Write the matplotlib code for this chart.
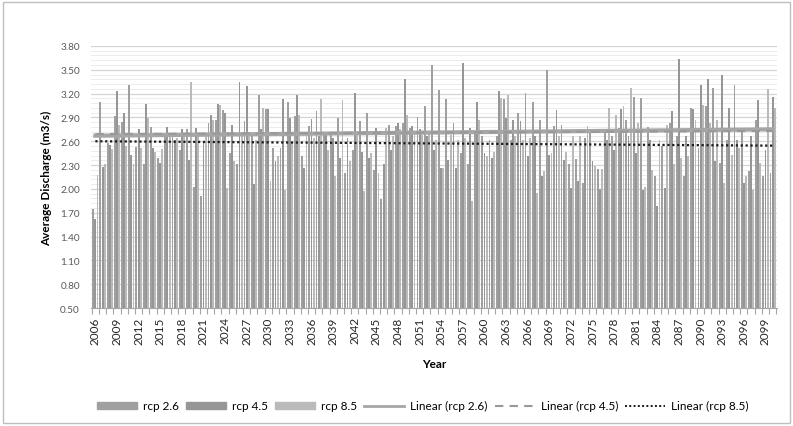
import numpy as np
import matplotlib.pyplot as plt
from matplotlib.patches import Patch, Rectangle
from matplotlib.lines import Line2D

plt.rcParams['font.family'] = ['Lato', 'DejaVu Sans']

# Роки та значення
years = list(range(2006, 2101))

rcp26 = [1.75, 3.09, 2.58, 2.92, 2.84, 3.31, 2.53, 2.31, 2.78, 2.39,
         2.68, 2.66, 2.49, 2.75, 2.03, 1.91, 2.83, 2.87, 2.99, 2.45,
         2.31, 2.85, 2.66, 3.18, 3.00, 2.52, 2.52, 3.10, 2.92, 2.41,
         2.79, 2.98, 2.72, 2.72, 2.89, 2.20, 2.49, 2.86, 2.95, 2.24,
         1.87, 2.81, 2.79, 2.83, 2.77, 2.91, 3.04, 3.56, 3.25, 3.13,
         2.83, 2.45, 2.31, 2.71, 2.66, 2.62, 2.66, 3.13, 2.62, 2.96,
         3.21, 3.09, 2.87, 3.50, 2.79, 2.80, 2.31, 2.38, 2.08, 2.72,
         2.25, 2.70, 2.66, 2.77, 2.87, 3.16, 3.14, 2.78, 2.16, 2.54,
         2.83, 2.66, 2.16, 3.02, 2.52, 3.05, 3.27, 2.33, 2.62, 3.31,
         2.75, 2.22, 2.87, 2.16, 2.20]
rcp45 = [1.62, 2.28, 2.55, 3.23, 2.96, 2.43, 2.75, 3.07, 2.52, 2.33,
         2.78, 2.62, 2.76, 2.37, 2.77, 2.58, 2.93, 3.07, 2.95, 2.81,
         3.34, 3.29, 2.06, 2.75, 3.00, 2.35, 3.13, 2.89, 3.18, 2.26,
         2.88, 2.66, 2.68, 2.64, 2.39, 2.64, 3.21, 2.47, 2.39, 2.77,
         2.31, 2.49, 2.83, 3.39, 2.79, 2.75, 2.66, 2.49, 2.26, 2.37,
         2.26, 3.58, 2.77, 3.09, 2.45, 2.39, 3.23, 2.89, 2.87, 2.85,
         2.41, 2.66, 2.16, 2.43, 2.99, 2.37, 2.01, 2.10, 2.64, 2.35,
         2.00, 2.62, 2.49, 3.00, 2.66, 2.45, 1.99, 2.62, 1.78, 2.01,
         2.98, 3.63, 2.66, 3.00, 3.31, 3.38, 2.35, 3.44, 3.02, 2.62,
         2.08, 2.66, 3.12, 2.49, 3.16]
rcp85 = [2.18, 2.31, 2.50, 2.80, 2.54, 2.31, 2.52, 2.89, 2.47, 2.50,
         2.66, 2.64, 2.66, 3.35, 2.66, 2.66, 2.87, 3.06, 2.01, 2.35,
         2.66, 2.66, 2.62, 3.02, 2.10, 2.41, 1.99, 2.58, 2.93, 2.68,
         2.64, 3.13, 2.49, 2.16, 3.12, 2.35, 2.72, 1.97, 2.45, 2.20,
         2.77, 2.66, 2.75, 2.93, 2.70, 2.68, 2.70, 2.62, 2.26, 2.68,
         2.62, 2.64, 1.85, 2.87, 2.41, 2.47, 3.14, 3.18, 2.66, 2.62,
         2.64, 1.95, 2.22, 2.45, 2.66, 2.47, 2.66, 2.66, 2.79, 2.29,
         2.25, 3.02, 2.93, 3.04, 3.27, 2.83, 2.03, 2.24, 2.62, 2.80,
         2.31, 2.39, 2.41, 2.87, 3.06, 2.83, 2.87, 2.08, 2.43, 2.52,
         2.16, 1.99, 2.33, 3.26, 3.02]

series_names = ['rcp 2.6', 'rcp 4.5', 'rcp 8.5']
bar_colors = ['#a0a0a0', '#969696', '#bababa']

# Лінійні тренди (початок / кінець)
trend_start = [2.67, 2.69, 2.60]
trend_end = [2.75, 2.73, 2.545]

x = np.arange(len(years))
fig = plt.figure(figsize=(7.93, 4.27), dpi=100)
ax = fig.add_axes([0.1148, 0.2763, 0.865, 0.6137])

w = 0.26
for k, vals in enumerate([rcp26, rcp45, rcp85]):
    ax.bar(x + (k - 1) * 0.3, np.array(vals) - 0.5, width=w, bottom=0.5,
           color=bar_colors[k], zorder=2)

ax.plot([x[0], x[-1]], [trend_start[0], trend_end[0]], color='#a6a6a6', lw=3, zorder=3)
ax.plot([x[0], x[-1]], [trend_start[1], trend_end[1]], color='#999999', lw=1.5,
        dashes=(4, 3), zorder=3)
ax.plot([x[0], x[-1]], [trend_start[2], trend_end[2]], color='#1a1a1a', lw=1.6,
        linestyle=(0, (1, 1.2)), zorder=4)

ax.set_ylim(0.5, 3.8)
ax.set_xlim(-0.6, len(years) - 0.4)
ax.set_yticks(np.arange(0.5, 3.81, 0.3))
ax.set_yticklabels([f'{v:.2f}' for v in np.arange(0.5, 3.81, 0.3)])
ax.set_yticks(np.arange(0.5, 3.81, 0.06), minor=True)
ax.grid(axis='y', which='major', color='#d4d4d4', lw=0.9, zorder=0)
ax.grid(axis='y', which='minor', color='#ececec', lw=0.7, zorder=0)
ax.tick_params(axis='y', which='both', length=0, labelsize=7.2, colors='#595959', pad=8)

ax.set_xticks(x[::3])
ax.set_xticklabels([str(y) for y in years[::3]], rotation=90)
ax.set_xticks(np.arange(-0.5, len(years), 1), minor=True)
ax.tick_params(axis='x', which='major', length=0, labelsize=8.5, colors='#262626', pad=6)
ax.tick_params(axis='x', which='minor', length=4, color='#a6a6a6', width=0.8)

for s in ['top', 'right', 'left']:
    ax.spines[s].set_visible(False)
ax.spines['bottom'].set_color('#a6a6a6')

ax.set_ylabel('Average Discharge (m3/s)', fontsize=8.5, fontweight='bold', labelpad=6)
ax.set_xlabel('Year', fontsize=8.5, fontweight='bold', labelpad=10)

handles = [Patch(color=c) for c in bar_colors] + [
    Line2D([], [], color='#a6a6a6', lw=2),
    Line2D([], [], color='#999999', lw=1.5, dashes=(4, 3)),
    Line2D([], [], color='#1a1a1a', lw=1.4, linestyle=(0, (1, 1.2)))]
labels = series_names + ['Linear (rcp 2.6)', 'Linear (rcp 4.5)', 'Linear (rcp 8.5)']
fig.legend(handles, labels, loc='center', bbox_to_anchor=(0.533, 0.047), ncol=6,
           frameon=False, fontsize=8.5, handlelength=3.4, handletextpad=0.5,
           columnspacing=0.6, handleheight=0.5)

fig.patches.append(Rectangle((0.004, 0.006), 0.992, 0.988, transform=fig.transFigure,
                             fill=False, edgecolor='#bfbfbf', lw=1))

fig.savefig('out.png', dpi=100)
